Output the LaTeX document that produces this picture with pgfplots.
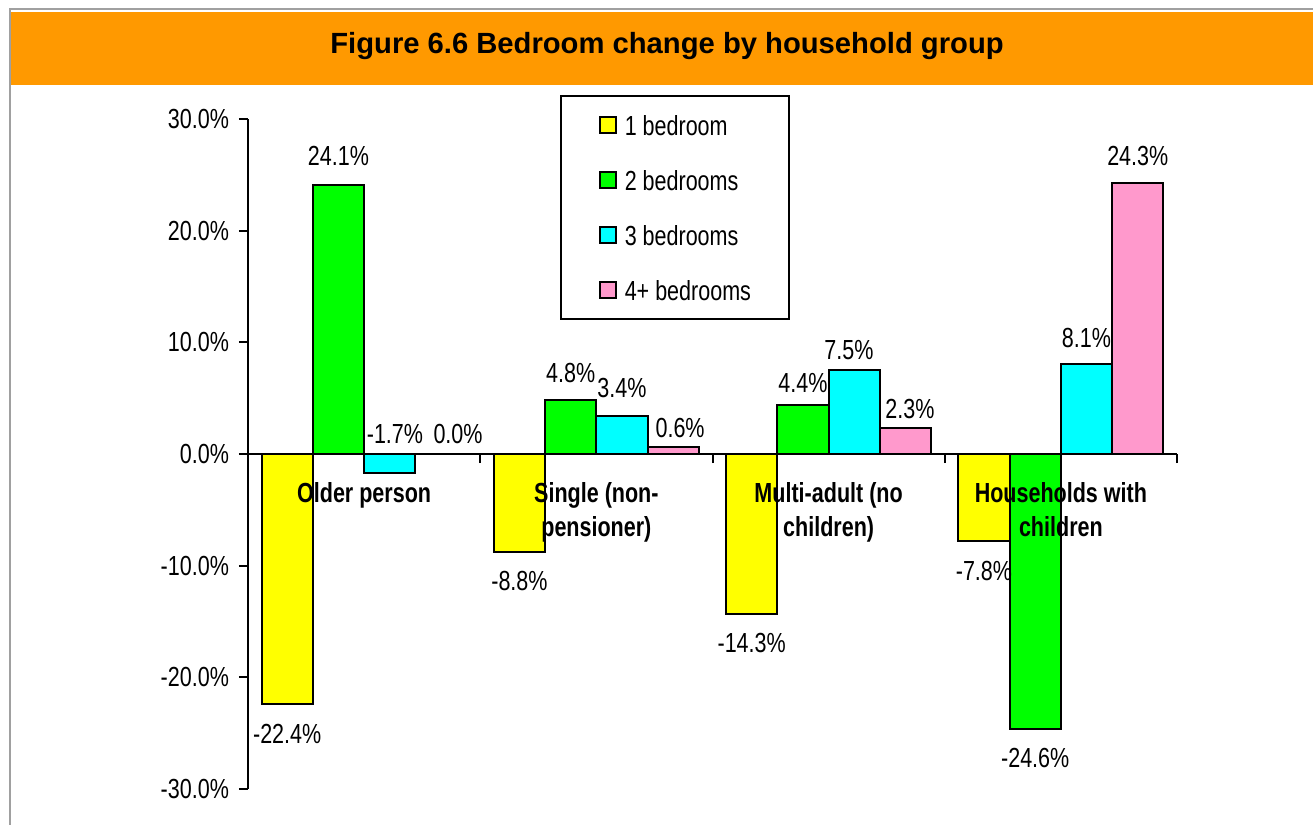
\documentclass[border=0pt]{standalone}
\usepackage{fontspec}
\setmainfont{Liberation Sans}[FakeStretch=0.78]
\newfontfamily\titlefont{Liberation Sans}
\usepackage{pgfplots}
\pgfplotsset{compat=1.18}
\usepackage{pgfplotstable}
\definecolor{orng}{HTML}{FF9900}
\definecolor{framegray}{HTML}{A0A0A0}
\definecolor{cyel}{HTML}{FFFF00}
\definecolor{cgrn}{HTML}{00FF00}
\definecolor{ccyn}{HTML}{00FFFF}
\definecolor{cpnk}{HTML}{FF99CC}
\newcommand{\fs}{\fontsize{13.8}{17}\selectfont}

\pgfplotstableread{
x y dx dy
0.1688 -22.4 0 -15.0
1.1688 -8.8 0 -14.4
2.1688 -14.3 0 -14.7
3.1688 -7.8 0 -15.0
}\one
\pgfplotstableread{
x y dx dy
0.3896 24.1 0 14.5
1.3896 4.8 0 13.7
2.3896 4.4 0 11.0
3.3896 -24.6 0 -14.6
}\two
\pgfplotstableread{
x y dx dy
0.6104 -1.7 2.6 19.5
1.6104 3.4 0 14.0
2.6104 7.5 -2.7 10.0
3.6104 8.1 0 12.7
}\three
\pgfplotstableread{
x y dx dy
0.8312 0.0 8.5 10.0
1.8312 0.6 3.4 9.7
2.8312 2.3 2.2 9.7
3.8312 24.3 0 13.3
}\four

\begin{document}
\begin{tikzpicture}
\fill[white] (0,0) rectangle (656.5pt,-412.5pt);
\path[use as bounding box] (0,0) rectangle (656.5pt,-412.5pt);
\fill[orng] (5pt,-5.8pt) rectangle (656.5pt,-42.5pt);
\draw[framegray, line width=1pt] (5pt,-412.5pt) -- (5pt,-4.6pt) -- (656.5pt,-4.6pt);
\node[anchor=base, font=\titlefont\bfseries\fontsize{14.6}{17}\selectfont] at (333.5pt,-26.7pt) {Figure 6.6 Bedroom change by household group};
\begin{axis}[
 at={(124pt,-394.5pt)}, anchor=south west,
 scale only axis, width=464.5pt, height=335pt,
 xmin=0, xmax=4, ymin=-30, ymax=30, enlargelimits=false,
 axis x line=middle, axis y line=left,
 axis on top,
 axis line style={-, line width=1pt, black},
 tick align=outside,
 major tick length=4.5pt,
 every tick/.style={black, line width=1pt},
 xtick={0,1,2,3,4}, xticklabels={},
 extra x ticks={0.5,1.5,2.5,3.5},
 extra x tick labels={Older person, {Single (non-\\pensioner)}, {Multi-adult (no\\children)}, {Households with\\children}},
 extra x tick style={major tick length=0pt, tick label style={font=\bfseries\fs, align=center, yshift=-10.5pt}},
 ytick={-30,-20,...,30},
 yticklabels={-30.0\%,-20.0\%,-10.0\%,0.0\%,10.0\%,20.0\%,30.0\%},
 y tick label style={font=\fs, xshift=-1.5pt},
 ybar, bar width=0.2208,
 clip=false,
 point meta=y,
 nodes near coords={\pgfmathprintnumber[fixed,fixed zerofill,precision=1,assume math mode=true]{\pgfplotspointmeta}\%},
 nodes near coords align=center,
 visualization depends on={\thisrow{dx} \as \dx},
 visualization depends on={\thisrow{dy} \as \dy},
 every node near coord/.append style={font=\fs, text=black, anchor=center, xshift=\dx pt, yshift=\dy pt},
 legend style={at={(0.3358,1.0358)}, anchor=north west, draw=black, line width=1pt, fill=white,
   inner xsep=19pt, inner ysep=9.6pt, row sep=17.5pt, column sep=4pt,
   nodes={inner sep=0pt, text height=10pt, text depth=0pt, font=\fs}},
 legend cell align=left,
 legend image code/.code={\draw[#1, line width=0.9pt] (0pt,-4pt) rectangle (8pt,4pt);},
]
\addplot[bar shift=0pt, fill=cyel, draw=black, line width=1pt] table[x=x,y=y] {\one};
\addlegendentry{1 bedroom}
\addplot[bar shift=0pt, fill=cgrn, draw=black, line width=1pt] table[x=x,y=y] {\two};
\addlegendentry{2 bedrooms}
\addplot[bar shift=0pt, fill=ccyn, draw=black, line width=1pt] table[x=x,y=y] {\three};
\addlegendentry{3 bedrooms}
\addplot[bar shift=0pt, fill=cpnk, draw=black, line width=1pt] table[x=x,y=y] {\four};
\addlegendentry{4+ bedrooms}
\end{axis}
\end{tikzpicture}
\end{document}
